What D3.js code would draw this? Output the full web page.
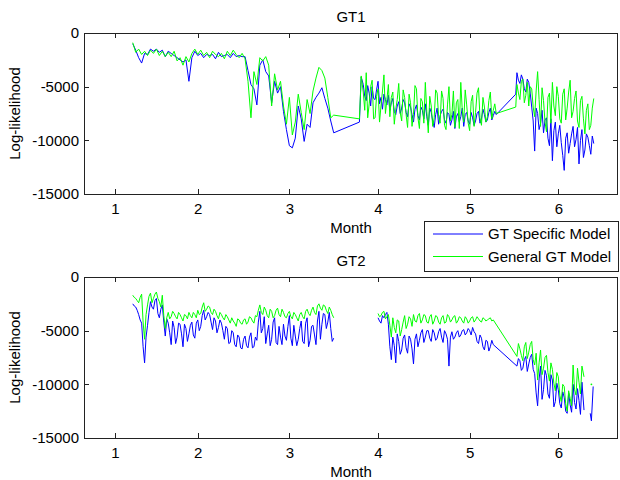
<!DOCTYPE html>
<html>
<head>
<meta charset="utf-8">
<script src="https://cdn.jsdelivr.net/npm/d3@7"></script>
<style>
  body { margin: 0; background: #fff; }
  text { font-family: "Liberation Sans", Arial, sans-serif; font-size: 15px; fill: #000; }
</style>
</head>
<body>
<div id="chart"></div>
<script>
// Month axis: ticks sit on the first day of each month (day of year)
var monthStartDays = [32, 60, 91, 121, 152, 182];
var monthLabels = ["1", "2", "3", "4", "5", "6"];
var yTickValues = [0, -5000, -10000, -15000];
var yTickLabels = ["0", "-5000", "-10000", "-15000"];
var seriesNames = ["GT Specific Model", "General GT Model"];
var panelTitles = ["GT1", "GT2"];

// GT1 samples (day of year)
var gt1Days = [38, 39, 40, 41, 42, 43, 44, 45, 46, 47, 48, 49, 50, 51, 52, 53, 54, 55, 56, 57, 58, 59, 60,
  61, 62, 63, 64, 65, 66, 67, 68, 69, 70, 71, 72, 73, 74, 75, 76, 77, 78, 79, 80, 81, 82, 83, 84, 85, 86,
  87, 88, 89, 90, 91, 92, 93, 94, 95, 96, 97, 98, 99, 100, 101, 102, 103, 104, 105, 106,
  114.7, 115.3,
  116, 116.5, 117, 117.5, 118, 118.5, 119, 119.5, 120, 120.5, 121, 121.5, 122, 122.5, 123, 123.5,
  124, 124.5, 125, 125.5, 126, 126.5, 127, 127.5, 128, 128.5, 129, 129.5, 130, 130.5, 131, 131.5,
  132, 132.5, 133, 133.5, 134, 134.5, 135, 135.5, 136, 136.5, 137, 137.5, 138, 138.5, 139, 139.5,
  140, 140.5, 141, 141.5, 142, 142.5, 143, 143.5, 144, 144.5, 145, 145.5, 146, 146.5, 147, 147.5,
  148, 148.5, 149, 149.5, 150, 150.5, 151, 151.5, 152, 152.5, 153, 153.5, 154, 154.5, 155, 155.5,
  156, 156.5, 157, 157.5, 158, 158.5, 159, 159.5, 160, 160.5, 161,
  167.6,
  168, 168.5, 169, 169.5, 170, 170.5, 171, 171.5, 172, 172.5, 173, 173.5, 174, 174.5, 175, 175.5,
  176, 176.5, 177, 177.5, 178, 178.5, 179, 179.5, 180, 180.5, 181, 181.5, 182, 182.5, 183, 183.5,
  184, 184.5, 185, 185.5, 186, 186.5, 187, 187.5, 188, 188.5, 189, 189.5, 190, 190.5, 191, 191.5,
  192, 192.5, 193, 193.5, 194];

var gt1Specific = [-1000, -1600, -2300, -2800, -1900, -2000, -1500, -1700, -1500, -1800, -1600, -2200, -1700,
  -1900, -2100, -2300, -2500, -2700, -2500, -4500, -2300, -1700, -2100,
  -1900, -2300, -2000, -2100, -2000, -2400, -1800, -2200, -2100, -2000, -2300, -1900, -2200, -2100, -2200,
  -2200, -3500, -4800, -5200, -6700, -3000, -2500, -3600, -4000, -6500, -4500,
  -5600, -5000, -7300, -9000, -10500, -10700, -9800, -6800, -8000, -10100, -8500, -8800, -6500, -6000,
  -5600, -5100, -6100, -7000, -8200, -9300,
  -8300, -4100,
  -4800, -5900, -6300, -4900, -5600, -6800, -5000, -6100, -6200, -5300, -4500, -6600, -6000, -7100, -5700, -6200,
  -6700, -5800, -7200, -6500, -6100, -7300, -7600, -6800, -6400, -7500, -7000, -6200, -6500, -7400, -7800, -6600,
  -6900, -7600, -8300, -7100, -6700, -7700, -8100, -6900, -7200, -8000, -6600, -7800, -8600, -7000, -7400, -8200,
  -8800, -7600, -7000, -8500, -7700, -7300, -7100, -8100, -8400, -7400, -7600, -8600, -8100, -7300, -8900, -7800,
  -7500, -8300, -7800, -7000, -8700, -7600, -7400, -8200, -8500, -7400, -7900, -8600, -8200, -7500, -7300, -8400,
  -8000, -7100, -7600, -8300, -8100, -7400, -7000, -8100, -7700, -7300, -7600,
  -5700,
  -3700, -4400, -4700, -3900, -4300, -5200, -5500, -4300, -4600, -5600, -6900, -8200, -11000, -7000, -7500, -9000,
  -8400, -7200, -9300, -8100, -7900, -9800, -10500, -8000, -11900, -9100, -8300, -10600, -9400, -8600, -10200, -11400,
  -12800, -9800, -9300, -11200, -10300, -9400, -8700, -10600, -9900, -8800, -12200, -10000, -9000, -11600, -10900, -9400,
  -9700, -10500, -11300, -9600, -10300];

var gt1General = [-900, -1800, -1500, -2000, -1700, -2100, -1600, -1900, -1500, -2100, -1700, -2200, -1800,
  -2200, -1700, -2600, -2300, -3000, -2200, -2700, -1900, -1500, -2000,
  -1600, -2100, -1800, -2300, -1700, -2000, -2200, -1900, -2400, -1700, -2100, -1600, -2000, -2300, -1900,
  -2400, -4500, -7900, -3600, -4800, -2300, -2600, -2200, -3000, -6800, -3800,
  -5300, -4500, -6800, -8500, -6000, -9500, -8300, -5700, -7400, -9000, -6200, -7500, -5400, -4200,
  -3200, -3500, -4200, -6000, -7900, -7650,
  -8000, -4000,
  -5500, -7200, -3700, -7900, -6600, -5000, -4400, -8000, -7900, -5900, -5200, -8300, -6800, -5400, -3900, -7500,
  -6200, -4800, -7800, -6000, -5500, -8500, -7100, -6200, -4700, -7400, -8200, -5300, -6000, -7600, -8800, -5700,
  -6500, -8700, -7600, -4900, -5200, -7900, -8900, -6100, -6400, -8400, -4600, -7300, -9300, -5900, -6800, -8700,
  -7900, -5300, -5600, -7800, -8400, -5400, -6100, -8600, -9000, -6700, -5000, -8200, -7600, -5400, -8800, -6500,
  -6200, -8900, -4600, -7200, -8300, -5300, -6700, -8400, -9100, -6400, -5800, -8700, -7400, -5600, -5100, -7900,
  -8600, -6000, -6900, -8300, -7800, -6300, -5500, -8000, -7200, -6600, -7500,
  -6900,
  -4800, -5600, -6200, -4500, -4300, -6500, -5800, -4600, -6800, -5000, -5200, -6900, -7800, -5400, -3600, -6200,
  -8700, -5100, -6300, -8300, -9200, -6000, -5600, -8400, -4600, -6800, -7700, -5000, -5900, -8000, -8400, -5700,
  -5200, -8100, -7000, -5500, -4400, -7900, -7300, -6100, -5400, -8200, -8800, -6300, -5900, -8000, -9400, -7200,
  -6600, -9000, -8600, -7000, -6100];

// GT2 samples (null = no data)
var gt2Days = [38, 38.5, 39, 39.5, 40, 40.5, 41, 41.5, 42, 42.5, 43, 43.5, 44, 44.5, 45, 45.5,
  46, 46.5, 47, 47.5, 48, 48.5, 49, 49.5, 50, 50.5, 51, 51.5, 52, 52.5, 53, 53.5,
  54, 54.5, 55, 55.5, 56, 56.5, 57, 57.5, 58, 58.5, 59, 59.5, 60, 60.5, 61, 61.5,
  62, 62.5, 63, 63.5, 64, 64.5, 65, 65.5, 66, 66.5, 67, 67.5, 68, 68.5, 69, 69.5,
  70, 70.5, 71, 71.5, 72, 72.5, 73, 73.5, 74, 74.5, 75, 75.5, 76, 76.5, 77, 77.5,
  78, 78.5, 79, 79.5, 80, 80.5, 81, 81.5, 82, 82.5, 83, 83.5, 84, 84.5, 85, 85.5,
  86, 86.5, 87, 87.5, 88, 88.5, 89, 89.5, 90, 90.5, 91, 91.5, 92, 92.5, 93, 93.5,
  94, 94.5, 95, 95.5, 96, 96.5, 97, 97.5, 98, 98.5, 99, 99.5, 100, 100.5, 101, 101.5,
  102, 102.5, 103, 103.5, 104, 104.5, 105, 105.5, 106,
  113,
  121, 121.5, 122, 122.5, 123, 123.5, 124, 124.5, 125, 125.5, 126, 126.5, 127, 127.5, 128, 128.5,
  129, 129.5, 130, 130.5, 131, 131.5, 132, 132.5, 133, 133.5, 134, 134.5, 135, 135.5, 136, 136.5,
  137, 137.5, 138, 138.5, 139, 139.5, 140, 140.5, 141, 141.5, 142, 142.5, 143, 143.5, 144, 144.5,
  145, 145.5, 146, 146.5, 147, 147.5, 148, 148.5, 149, 149.5, 150, 150.5, 151, 151.5, 152, 152.5,
  153, 153.5, 154, 154.5, 155, 155.5, 156, 156.5, 157, 157.5, 158, 158.5, 159, 159.5, 160,
  168, 168.5, 169, 169.5, 170, 170.5, 171, 171.5, 172, 172.5, 173, 173.5, 174, 174.5, 175, 175.5,
  176, 176.5, 177, 177.5, 178, 178.5, 179, 179.5, 180, 180.5, 181, 181.5, 182, 182.5, 183, 183.5,
  184, 184.5, 185, 185.5, 186, 186.5, 187, 187.5, 188, 188.5, 189, 189.5, 190,
  190.7, 191.8, 192.8, 193.2, 193.8];

var gt2Specific = [-2500, -2700, -2800, -3100, -3500, -4000, -4300, -6500, -8000, -5600, -4500, -3300, -2300, -2800, -3000, -2200,
  -2000, -3400, -3800, -3000, -2600, -4200, -5500, -3900, -4300, -5200, -6300, -4100, -4700, -6200, -5600, -4300,
  -4400, -5300, -6500, -4400, -4800, -6000, -5300, -4500, -4200, -5400, -5700, -4300, -4000, -5000, -4600, -3600,
  -3100, -4000, -3700, -3300, -3500, -4200, -4900, -3800, -4100, -5200, -4700, -4000, -4300, -5000, -5800, -4600,
  -4800, -6200, -6100, -5000, -5200, -6300, -6500, -5400, -5600, -6600, -6700, -5800, -5500, -6400, -6600, -5600,
  -5200, -6600, -6500, -5600, -5900, -4200, -3200, -5200, -4800, -3700, -6200, -5300, -4500, -6400, -5800, -4200,
  -3800, -6100, -6300, -4600, -5600, -6300, -4400, -5500, -5900, -4600, -3600, -5700, -6400, -4500, -5500, -6400,
  -5800, -4800, -4100, -6000, -6200, -4300, -3800, -6500, -5900, -4600, -4500, -5400, -6300, -4100, -3200, -5800,
  -4400, -3400, -3500, -4800, -4200, -3300, -4800, -6000, -5700,
  null,
  -3800, -4100, -4300, -3600, -3800, -3500, -3300, -4400, -6500, -7700, -5600, -6400, -8000, -5300, -6000, -7200,
  -6800, -5700, -5400, -6600, -7100, -5500, -5800, -6700, -8100, -5800, -5300, -6500, -5900, -5200, -4900, -6100,
  -5600, -5000, -5000, -5700, -6000, -4900, -5200, -5900, -5700, -5100, -4800, -5600, -6100, -5000, -5300, -5800,
  -8300, -5600, -5100, -5800, -5600, -5200, -5000, -5600, -5400, -5000, -4900, -5400, -5200, -4800, -5000, -5400,
  -4700, -5100, -5300, -6000, -6200, -5400, -5700, -6500, -6800, -5900, -6000, -6900, -6500, -5900, -6300,
  -8300, -7600, -7800, -8700, -8500, -7700, -7400, -8800, -8100, -7500, -7200, -8600, -9000, -10800, -12000, -9500,
  -8300, -11400, -10500, -8700, -9200, -10900, -11300, -9100, -9600, -12100, -11600, -9900, -10500, -11800, -12200, -10700,
  -11200, -12500, -12700, -10800, -11900, -12600, -10000, -11700, -12300, -10400, -11500, -12800, -9800,
  -12400, null, -12700, -13400, -10200];

var gt2General = [-1700, -1900, -2000, -2200, -2400, -1900, -1600, -4200, -5800, -3500, -2600, -1800, -1500, -2400, -2000, -1600,
  -1400, -2000, -2300, -2800, -1700, -3600, -4800, -3800, -3300, -3900, -3700, -3200, -3400, -3700, -3900, -3300,
  -3500, -3800, -4100, -3500, -3600, -3900, -3300, -3600, -3800, -3300, -3500, -3800, -3100, -3500, -3400, -2800,
  -2400, -3200, -3000, -2700, -2800, -3300, -3500, -3000, -3200, -3600, -3900, -3300, -3500, -3800, -4000, -3500,
  -3700, -4000, -4300, -3800, -4100, -4300, -4600, -3900, -4000, -4300, -4400, -4000, -3900, -4400, -4200, -3700,
  -3800, -4100, -4300, -3600, -3700, -3100, -2600, -3300, -3500, -2800, -3100, -3600, -3800, -3000, -3200, -3800,
  -3600, -3100, -2900, -3500, -3700, -3000, -3300, -3700, -3800, -3400, -3200, -3700, -3900, -3300, -3500, -3800,
  -4100, -3500, -3300, -3700, -3900, -3200, -3000, -3400, -3600, -3100, -2800, -3300, -3500, -2700, -2500, -2900,
  -3100, -2600, -2700, -3100, -3400, -2800, -3100, -3500, -3800,
  null,
  -3400, -3700, -3600, -3300, -3200, -3900, -3700, -3500, -4500, -5600, -3800, -4700, -5200, -4000, -4100, -5500,
  -4900, -4200, -3600, -4800, -4400, -3700, -3900, -4600, -3500, -4100, -4200, -3600, -3400, -4300, -4000, -3500,
  -3600, -4200, -4300, -3700, -3500, -4400, -4100, -3600, -3700, -4200, -4400, -3800, -3600, -4300, -4200, -3500,
  -3700, -4200, -4000, -3700, -3600, -4300, -4100, -3700, -3800, -4100, -4300, -3700, -3900, -4300, -4100, -3800,
  -3700, -4200, -4000, -3700, -3900, -4100, -4200, -3800, -3900, -4100, -4000, -3900, -3800, -4100, -4000,
  -7400, -6200, -6700, -7300, -7800, -6500, -6100, -7600, -7000, -6300, -6000, -7700, -8200, -7100, -9600, -8000,
  -6800, -9100, -8500, -7500, -7300, -8900, -9700, -8000, -8600, -9900, -10600, -8900, -9300, -11000, -11600, -10000,
  -10200, -11800, -12500, -10600, -11300, -12000, -8200, -10500, -11000, -8500, -9800, -10900, -8300,
  -9300, null, null, -10000, null];

var svgWidth = 620;
var svgHeight = 480;
var plotHeight = 161;
var tickLen = 5;

var svg = d3.select("#chart")
  .append("svg")
  .attr("width", svgWidth)
  .attr("height", svgHeight);

var xScale = d3.scaleLinear()
  .domain([21.5, 202.2])
  .range([84, 618]);

function drawPanel(top, title, days, specific, general) {
  var g = svg.append("g");
  var yScale = d3.scaleLinear()
    .domain([-15000, 0])
    .range([top + plotHeight, top]);

  if (specific.length != days.length || general.length != days.length) {
    g.append("text").attr("x", 100).attr("y", top + 20).attr("fill", "red")
      .text(days.length + " " + specific.length + " " + general.length);
  }

  // series lines (blue first, green on top)
  [[specific, "#0000ff"], [general, "#00ff00"]].forEach(function(s) {
    var vals = s[0];
    var pts = days.map(function(d, i) { return { x: d, y: vals[i] }; });
    var line = d3.line()
      .defined(d => d.y != null)
      .x(d => xScale(d.x))
      .y(d => yScale(d.y));
    g.append("path")
      .datum(pts)
      .attr("fill", "none")
      .attr("stroke", s[1])
      .attr("stroke-width", 1)
      .attr("stroke-linejoin", "round")
      .attr("d", line);
    // lonely samples show up as small dots
    var lonely = pts.filter(function(p, i) {
      return p.y != null && (i == 0 || pts[i - 1].y == null) && (i == pts.length - 1 || pts[i + 1].y == null);
    });
    g.selectAll(null)
      .data(lonely)
      .enter()
      .append("circle")
      .attr("cx", d => xScale(d.x))
      .attr("cy", d => yScale(d.y))
      .attr("r", 0.9)
      .attr("fill", s[1]);
  });

  // axes with inward ticks on all four sides
  var bottomAxis = d3.axisBottom(xScale)
    .tickValues(monthStartDays)
    .tickFormat((d, i) => monthLabels[i])
    .tickSizeInner(-tickLen).tickSizeOuter(0).tickPadding(9);
  var topAxis = d3.axisTop(xScale)
    .tickValues(monthStartDays).tickFormat("")
    .tickSizeInner(-tickLen).tickSizeOuter(0);
  var leftAxis = d3.axisLeft(yScale)
    .tickValues(yTickValues)
    .tickFormat((d, i) => yTickLabels[i])
    .tickSizeInner(-tickLen).tickSizeOuter(0).tickPadding(5);
  var rightAxis = d3.axisRight(yScale)
    .tickValues(yTickValues).tickFormat("")
    .tickSizeInner(-tickLen).tickSizeOuter(0);

  var axes = [
    [bottomAxis, `translate(0, ${top + plotHeight})`],
    [topAxis, `translate(0, ${top})`],
    [leftAxis, "translate(84, 0)"],
    [rightAxis, "translate(618, 0)"]
  ];
  axes.forEach(function(a) {
    var ag = g.append("g").attr("transform", a[1]).call(a[0]);
    ag.select(".domain").remove();
    ag.selectAll("line").attr("stroke", "#222").attr("shape-rendering", "crispEdges");
    ag.selectAll("text").attr("font-family", null).attr("font-size", null).attr("fill", "#000");
  });

  g.append("rect")
    .attr("x", 84.5)
    .attr("y", top + 0.5)
    .attr("width", 533)
    .attr("height", plotHeight)
    .attr("fill", "none")
    .attr("stroke", "#222")
    .attr("stroke-width", 1);

  // title and labels
  g.append("text")
    .attr("x", 351)
    .attr("y", top - 11.5)
    .attr("text-anchor", "middle")
    .text(title);

  g.append("text")
    .attr("x", 351)
    .attr("y", top + plotHeight + 39)
    .attr("text-anchor", "middle")
    .text("Month");

  g.append("text")
    .attr("transform", `translate(20, ${top + plotHeight / 2}) rotate(-90)`)
    .attr("text-anchor", "middle")
    .text("Log-likelihood");
}

drawPanel(33, panelTitles[0], gt1Days, gt1Specific, gt1General);
drawPanel(277, panelTitles[1], gt2Days, gt2Specific, gt2General);

// legend
var legend = svg.append("g");
legend.append("rect")
  .attr("x", 424.5)
  .attr("y", 221.5)
  .attr("width", 194)
  .attr("height", 50)
  .attr("fill", "#fff")
  .attr("stroke", "#222");

var legendColors = ["#0000ff", "#00ff00"];
seriesNames.forEach(function(name, i) {
  var ly = 234 + i * 22.5;
  legend.append("line")
    .attr("x1", 433).attr("x2", 483)
    .attr("y1", ly).attr("y2", ly)
    .attr("stroke", legendColors[i])
    .attr("stroke-width", 1);
  legend.append("text")
    .attr("x", 488)
    .attr("y", ly)
    .attr("dy", "0.35em")
    .text(name);
});
</script>
</body>
</html>
